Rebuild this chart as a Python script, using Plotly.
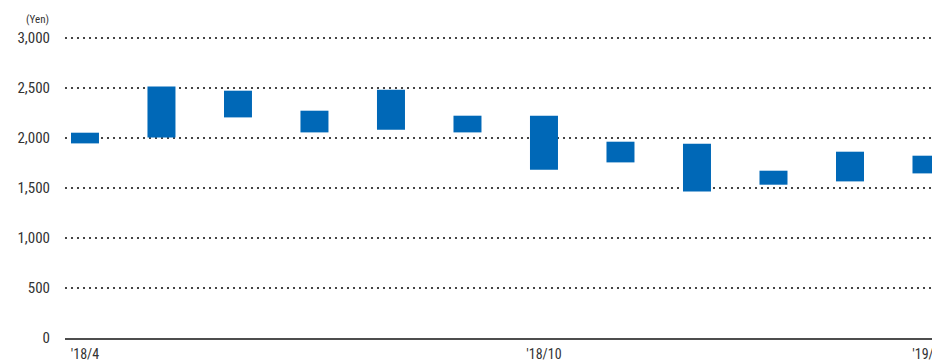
import plotly.graph_objects as go

months = ["'18/4", "'18/5", "'18/6", "'18/7", "'18/8", "'18/9",
          "'18/10", "'18/11", "'18/12", "'19/1", "'19/2", "'19/3"]
highs = [2053, 2515, 2473, 2273, 2483, 2223, 2223, 1963, 1943, 1673, 1863, 1823]
lows = [1946, 2005, 2206, 2056, 2083, 2056, 1683, 1756, 1466, 1533, 1566, 1646]
tick_idx = [0, 6, 11]
y_ticks = [0, 500, 1000, 1500, 2000, 2500, 3000]

x = list(range(len(months)))
fig = go.Figure(go.Bar(
    x=x, y=[h - l for h, l in zip(highs, lows)], base=lows,
    width=0.366, marker=dict(color="#0068B7", line=dict(width=0)),
    hoverinfo="skip"))

font_family = "Liberation Sans Narrow, Roboto Condensed, Arial Narrow, sans-serif"
fig.update_layout(
    width=932, height=362,
    margin=dict(l=65, r=0, t=33, b=24),
    paper_bgcolor="white", plot_bgcolor="white",
    showlegend=False,
    font=dict(family=font_family, color="#333333"),
    xaxis=dict(range=[-0.261, 11.072], tickvals=tick_idx,
               ticktext=[months[i] for i in tick_idx],
               showgrid=False, zeroline=False, automargin=False,
               showline=True, linecolor="#4d4d4d", linewidth=2,
               ticks="", tickfont=dict(size=14, color="#333333"),
               ticklabeloverflow="allow", ticklabelstandoff=2),
    yaxis=dict(range=[0, 3050], tickvals=y_ticks, automargin=False,
               tickformat=",", showgrid=True, gridcolor="#444444",
               gridwidth=1.5, griddash="2px,4px", zeroline=False,
               ticks="", tickfont=dict(size=15, color="#333333"),
               ticklabelstandoff=14),
    annotations=[dict(text="(Yen)", xref="paper", yref="paper",
                      x=0, y=1, xanchor="right", yanchor="bottom",
                      xshift=-14, yshift=5, showarrow=False,
                      font=dict(size=11, color="#333333", family=font_family))],
)

fig.write_html("out.html")
